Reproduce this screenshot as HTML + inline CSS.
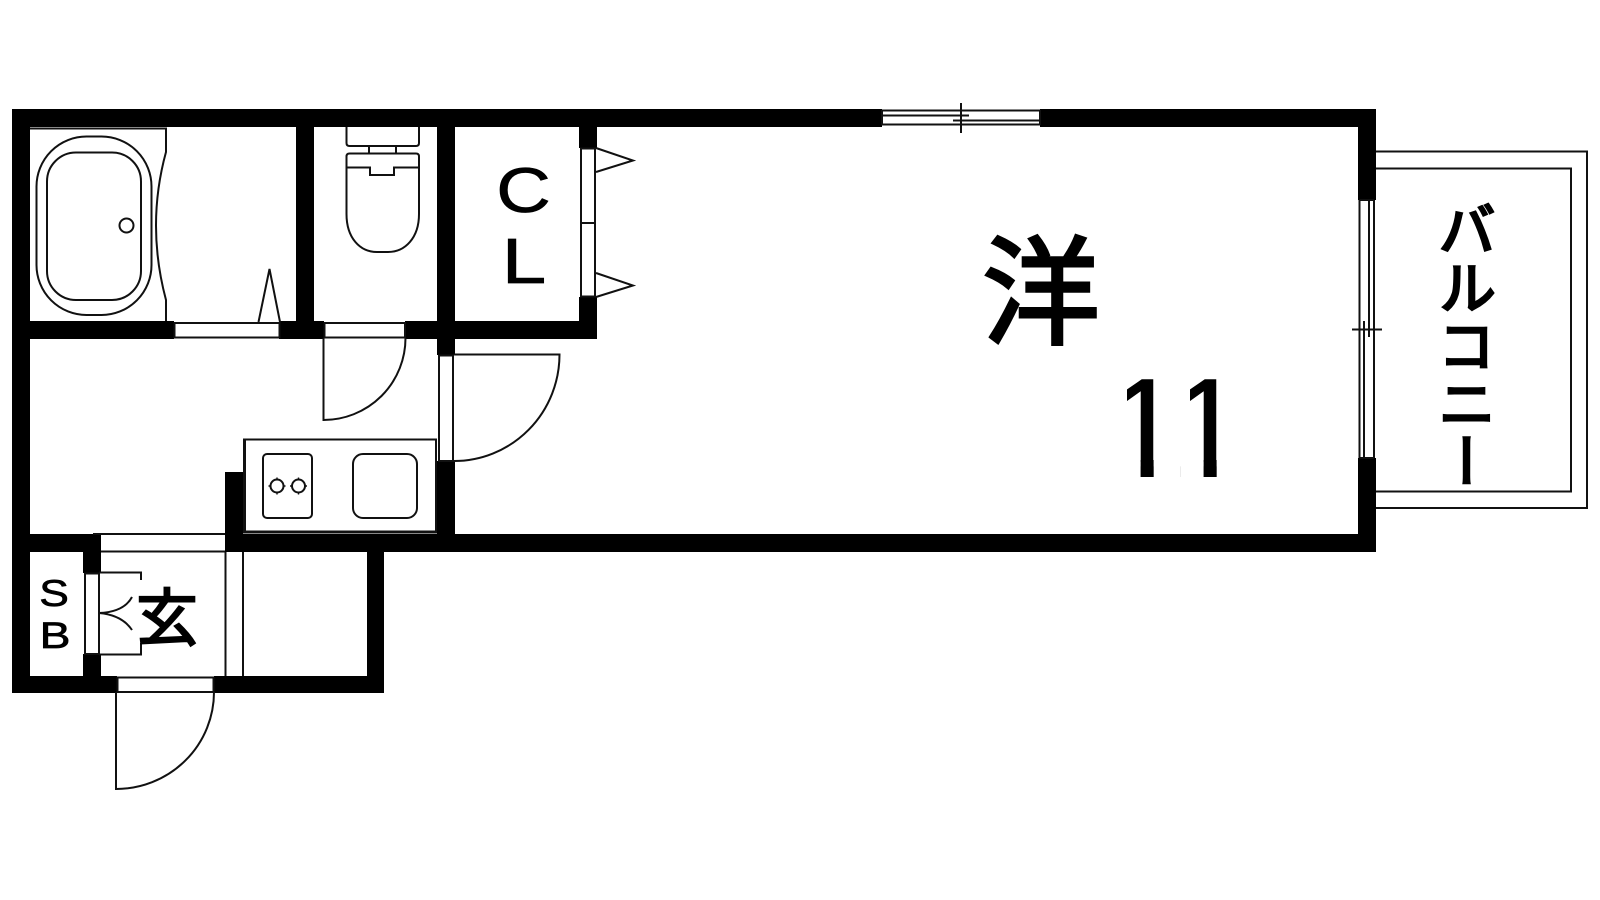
<!DOCTYPE html>
<html><head><meta charset="utf-8"><style>
html,body{margin:0;padding:0;background:#fff;width:1600px;height:900px;overflow:hidden}
svg{display:block}
</style></head><body>
<svg width="1600" height="900" viewBox="0 0 1600 900" xmlns="http://www.w3.org/2000/svg">
<rect width="1600" height="900" fill="#fff"/>
<g fill="#000">
<rect x="12" y="109" width="870" height="18"/>
<rect x="1040" y="109" width="336" height="18"/>
<rect x="12" y="109" width="18" height="584"/>
<rect x="296" y="109" width="18" height="230"/>
<rect x="437" y="109" width="18" height="246"/>
<rect x="579" y="109" width="18" height="39"/>
<rect x="579" y="297" width="18" height="42"/>
<rect x="12" y="321" width="162" height="18"/>
<rect x="279" y="321" width="45" height="18"/>
<rect x="405" y="321" width="192" height="18"/>
<rect x="437" y="461" width="18" height="91"/>
<rect x="1358" y="109" width="18" height="91"/>
<rect x="1358" y="458" width="18" height="94"/>
<rect x="225" y="534" width="1151" height="18"/>
<rect x="225" y="472" width="18" height="80"/>
<rect x="12" y="534" width="89" height="18"/>
<rect x="83" y="534" width="18" height="39"/>
<rect x="83" y="654" width="18" height="39"/>
<rect x="12" y="676" width="105" height="17"/>
<rect x="214" y="676" width="170" height="17"/>
<rect x="367" y="534" width="17" height="159"/>
</g>
<g fill="none" stroke="#111" stroke-width="2">
<!-- bath -->
<path d="M30 128.500H166V152Q146 225 166 300V321"/>
<rect x="36.500" y="136.500" width="115" height="178.500" rx="50" ry="50"/>
<rect x="47" y="152.500" width="94" height="147.500" rx="29" ry="29"/>
<circle cx="126.500" cy="225.500" r="7"/>
<!-- bath door -->
<rect x="174.500" y="323" width="105" height="14.500" fill="#fff"/>
<path d="M258.500 322L269.500 269L280 322"/>
<!-- toilet -->
<path d="M346.500 127V143Q346.500 146 349.500 146H416Q419 146 419 143V127"/>
<path d="M369 146V153M396 146V153"/>
<path d="M349.500 153.500H416Q419 153.500 419 156.500V214C419 238 405 252 388 252H377C360 252 346.500 238 346.500 214V156.500Q346.500 153.500 349.500 153.500Z"/>
<path d="M346.500 167.500H370V175H394V167.500H419"/>
<!-- toilet door -->
<rect x="324.500" y="323" width="80.500" height="14.500" fill="#fff"/>
<path d="M323.500 338V420A82 82 0 0 0 405.500 338"/>
<!-- CL doors -->
<rect x="581" y="148.500" width="14" height="148" fill="#fff"/>
<path d="M581 223H595"/>
<path d="M596 148L633 160.500L596 172"/>
<path d="M596 273L633 285.500L596 297"/>
<!-- room door -->
<rect x="439" y="355.500" width="14" height="105.500" fill="#fff"/>
<path d="M454 354.500H559.500A105.500 106.500 0 0 1 454 461"/>
<!-- sink -->
<rect x="244" y="439.500" width="192" height="93"/>
<path d="M245.500 440V531H435" stroke-width="1"/>
<rect x="263" y="454" width="49" height="64" rx="4"/>
<rect x="353" y="454" width="64" height="64" rx="10"/>
<circle cx="277" cy="486" r="6.500"/>
<circle cx="298.500" cy="486" r="6.500"/>
<path d="M277 477.500v2M277 492.500v2M268.500 486h2M283.500 486h2M298.500 477.500v2M298.500 492.500v2M290 486h2M305 486h2" stroke-width="1.400"/>
<!-- entrance top frame -->
<path d="M93 534H225M101 551.500H225"/>
<path d="M225.500 552V676M243 552V676"/>
<!-- shoe box -->
<rect x="85" y="573.500" width="14" height="80.500" fill="#fff"/>
<path d="M99 572.500H141V580M99 654.500H141V643"/>
<path d="M99 613Q124 612 132 597M99 613Q122 615 132 630"/>
<!-- entry door -->
<rect x="117.500" y="677.500" width="96" height="14.500" fill="#fff"/>
<path d="M116 692V789A98 97 0 0 0 214 692"/>
<!-- top window -->
<path d="M882 110.500H1040M882 124.500H1040M882 115.500H969M953 120.500H1040M961 103V133"/>
<path d="M882 110V125M1040 110V125"/>
<!-- right window -->
<path d="M1359.500 200V458M1374 200V458M1364 321V458M1369 200V337M1352 329.500H1382"/>
<path d="M1359.500 200H1374M1359.500 458H1374"/>
<!-- balcony -->
<path d="M1376 151.500H1587V508H1376"/>
<path d="M1376 168.500H1571V491.500H1376"/>
</g>
<g fill="#000" stroke="#000" stroke-width="0.700" font-family="'Liberation Sans',sans-serif">
<text transform="translate(523.500 212) scale(1.2 1)" font-size="63" text-anchor="middle">C</text>
<text transform="translate(524 283) scale(1.25 1)" font-size="64" text-anchor="middle">L</text>
<text transform="translate(54 606) scale(1.2 1)" font-size="37" text-anchor="middle">S</text>
<text transform="translate(55 648) scale(1.25 1)" font-size="37" text-anchor="middle">B</text>
</g>
<g fill="#000" font-family="'Liberation Sans',sans-serif">
<text x="1105" y="477" font-size="142">1</text>
<text x="1168" y="477" font-size="142">1</text>
</g>
<!-- reshape the digit glyphs to a footless 1 -->
<g fill="#fff">
<rect x="1108" y="462" width="32.700" height="18"/>
<rect x="1153.600" y="462" width="27" height="18"/>
<rect x="1180.600" y="462" width="23.100" height="18"/>
<rect x="1216.600" y="462" width="30" height="18"/>
<rect x="1108" y="370" width="19" height="50"/>
<rect x="1171" y="370" width="19" height="50"/>
</g>
<g fill="#000">
<rect x="1140.700" y="460" width="12.900" height="17"/>
<rect x="1203.700" y="460" width="12.900" height="17"/>
</g>
<g fill="#000" stroke="#000" stroke-linejoin="miter" font-family="'Noto Sans CJK JP',sans-serif">
<text x="982" y="335" font-size="118" stroke-width="3">洋</text>
<text x="136" y="640" font-size="62" stroke-width="2">玄</text>
<text x="1467" y="200" font-size="58" stroke-width="2.500" writing-mode="vertical-rl">バルコニー</text>
</g>
</svg>
</body></html>
